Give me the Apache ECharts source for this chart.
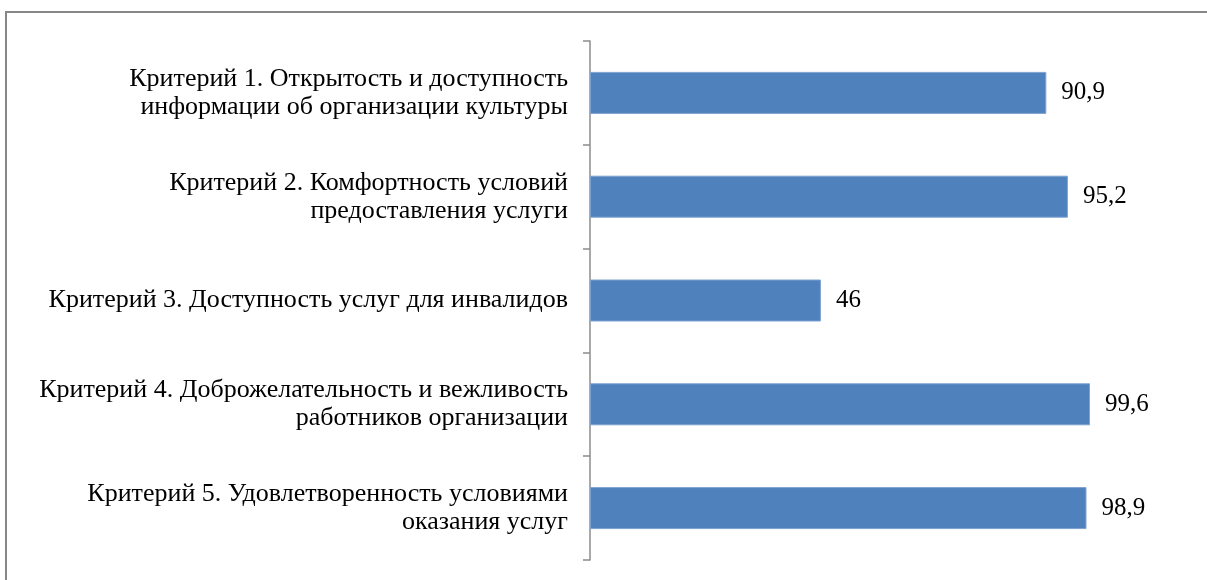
<!DOCTYPE html>
<html>
<head>
<meta charset="utf-8">
<script src="https://cdn.jsdelivr.net/npm/echarts@6/dist/echarts.min.js"></script>
<style>
html,body{margin:0;padding:0;background:#fff;}
#chart{width:1207px;height:580px;}
</style>
</head>
<body>
<div id="chart"></div>
<script>
const categories = [
  'Критерий 1. Открытость и доступность\nинформации об организации культуры',
  'Критерий 2. Комфортность условий\nпредоставления услуги',
  'Критерий 3. Доступность услуг для инвалидов',
  'Критерий 4. Доброжелательность и вежливость\nработников организации',
  'Критерий 5. Удовлетворенность условиями\nоказания услуг'
];
const values = [90.9, 95.2, 46, 99.6, 98.9];

const chart = echarts.init(document.getElementById('chart'), null, {renderer: 'canvas'});
chart.setOption({
  animation: false,
  backgroundColor: '#fff',
  graphic: [{
    type: 'polyline',
    shape: {points: [[6, 600], [6, 12], [1220, 12]]},
    style: {stroke: '#878787', lineWidth: 2, fill: null},
    silent: true
  }],
  grid: {left: 590, right: 115, top: 41, bottom: 20, containLabel: false},
  xAxis: {
    type: 'value', min: 0, max: 100, show: false
  },
  yAxis: {
    type: 'category',
    inverse: true,
    data: categories,
    axisLine: {show: true, lineStyle: {color: '#8c8c8c', width: 1.5}},
    axisTick: {show: true, length: 7, lineStyle: {color: '#8c8c8c', width: 1.5}},
    axisLabel: {
      margin: 22,
      color: '#000',
      fontFamily: '"Liberation Serif", "Times New Roman", serif',
      fontSize: 26,
      lineHeight: 28,
      align: 'right'
    },
    splitLine: {show: false}
  },
  series: [{
    type: 'bar',
    data: values,
    barWidth: 42,
    itemStyle: {color: '#4F81BD', borderColor: '#7ea2d0', borderWidth: 1},
    label: {
      show: true,
      position: 'right',
      distance: 15,
      color: '#000',
      fontFamily: '"Liberation Serif", "Times New Roman", serif',
      fontSize: 25,
      formatter: p => String(p.value).replace('.', ',')
    }
  }]
});
</script>
</body>
</html>
